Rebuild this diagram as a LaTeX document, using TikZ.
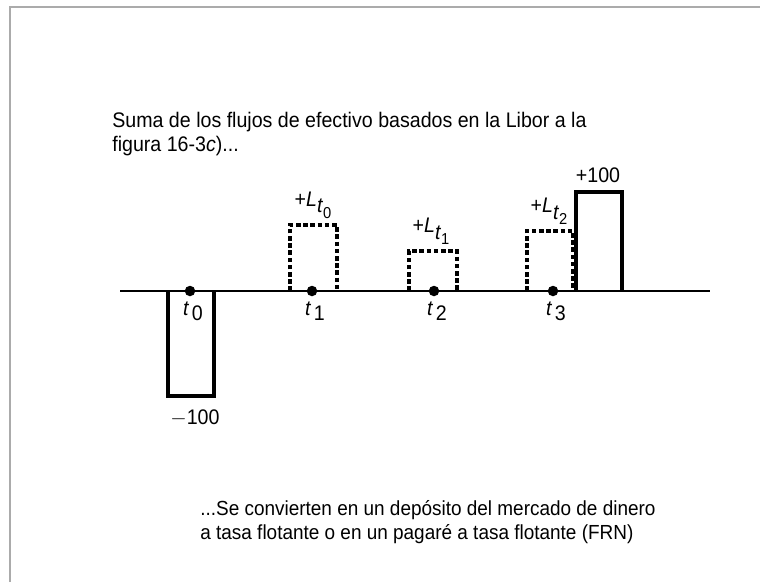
\documentclass[tikz,border=0pt]{standalone}
\usepackage{fontspec}
\setmainfont{Liberation Sans}[FakeStretch=0.93]
\usetikzlibrary{positioning}

\newcommand{\tidx}[1]{\textit{t}\kern1.5pt\raisebox{-0.4ex}{#1}}
\newcommand{\Lidx}[1]{+\textit{L}\raisebox{-0.6ex}{\textit{t}\raisebox{-0.45ex}{\small #1}}}

\begin{document}
\begin{tikzpicture}[
	  x=0.02cm, y=-0.02cm,
	  every node/.style = {font=\fontsize{12}{13.5}\selectfont, inner sep=0pt},
	  note/.style = {anchor=north west, align=left, font=\fontsize{11.6}{13.5}\selectfont},
	  dot/.style = {circle, fill, minimum size=0.21cm},
	  flow/.style = {line width=1.9pt},
	  libor/.style = {line width=1.9pt, dash pattern=on 2.6pt off 1.5pt},
	  frame/.style = {draw=black!33, line width=1.7pt}
	]
	  \useasboundingbox (0,0) rectangle (760,582);
	  \draw[frame] (10,582) -- (10,7) -- (760,7);

	  % texto superior
	  \node[note, font=\fontsize{12}{13.5}\selectfont] (top) at (112,112)
		{Suma de los flujos de efectivo basados en la Libor a la\\figura 16-3\textit{c})...};

	  % eje del tiempo
	  \coordinate (ini) at (120,291);
	  \coordinate (fin) at (710,291);
	  \draw[line width=0.7pt] (ini) -- (fin);

	  % flujos
	  \draw[flow] (168,291) -- (168,396) -- (214,396) -- (214,291);
	  \draw[libor] (290,291) -- (290,225) -- (337,225) -- (337,291);
	  \draw[libor] (409,291) -- (409,251) -- (457,251) -- (457,291);
	  \draw[libor] (527,291) -- (527,231) -- (573,231) -- (573,291);
	  \draw[flow] (576,291) -- (576,192) -- (622,192) -- (622,291);

	  % fechas
	  \node[dot] (d0) at (190,291) {};
	  \node[dot] (d1) at (312,291) {};
	  \node[dot] (d2) at (434,291) {};
	  \node[dot] (d3) at (553,291) {};
	  \node[below=0.1cm of d0, xshift=0.06cm] (t0) {\tidx{0}};
	  \node[below=0.1cm of d1, xshift=0.06cm] (t1) {\tidx{1}};
	  \node[below=0.1cm of d2, xshift=0.06cm] (t2) {\tidx{2}};
	  \node[below=0.1cm of d3, xshift=0.06cm] (t3) {\tidx{3}};

	  % montos
	  \coordinate (b0) at (195,396);
	  \coordinate (b1) at (313,225);
	  \coordinate (b2) at (431,251);
	  \coordinate (b3) at (549,231);
	  \coordinate (b4) at (598,192);
	  \node[below=0.27cm of b0] (m0) {$-$100};
	  \node[above=0.13cm of b1] (l0) {\Lidx{0}};
	  \node[above=0.12cm of b2] (l1) {\Lidx{1}};
	  \node[above=0.12cm of b3] (l2) {\Lidx{2}};
	  \node[above=0.18cm of b4] (m4) {+100};

	  % texto inferior
	  \node[note] (bot) at (200,500)
		{...Se convierten en un depósito del mercado de dinero\\a tasa flotante o en un pagaré a tasa flotante (FRN)};
\end{tikzpicture}
\end{document}
